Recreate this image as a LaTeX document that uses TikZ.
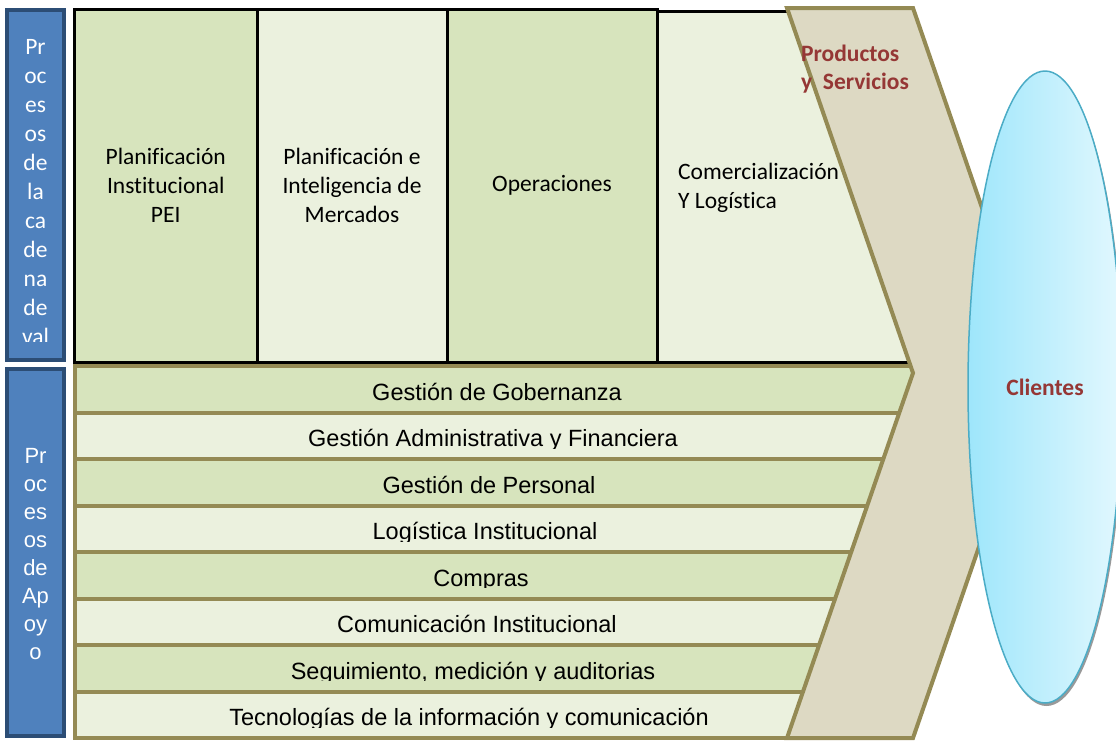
\documentclass[tikz,border=0pt]{standalone}
\usepackage{fontspec}
\setmainfont{Carlito}[Ligatures=NoCommon]
\newfontfamily\arial{Liberation Sans}
\usetikzlibrary{positioning}
\usetikzlibrary{shapes.geometric, shadows}

\definecolor{verdeosc}{HTML}{D7E4BD}
\definecolor{verdecla}{HTML}{EBF1DE}
\definecolor{oliva}{HTML}{948A54}
\definecolor{arena}{HTML}{DDD9C3}
\definecolor{azul}{HTML}{4F81BD}
\definecolor{azulosc}{HTML}{2C4D75}
\definecolor{granate}{HTML}{953735}
\definecolor{celeste}{HTML}{9EE6FB}
\definecolor{celestecla}{HTML}{E2F8FE}
\definecolor{bordecli}{HTML}{4BACC6}

\tikzset{
    cadena/.style={draw=black, line width=3pt, anchor=north west, outer sep=0pt, inner sep=0pt,
        align=center, font=\fontsize{23.5}{29}\selectfont},
    fila/.style={draw=oliva, line width=4pt, anchor=north west, outer sep=0pt, minimum height=46.5},
    etiqueta/.style={anchor=base, inner sep=0pt, font=\arial\fontsize{23.5}{28}\selectfont},
    barra/.style={draw=azulosc, fill=azul, line width=4pt, anchor=north west, outer sep=0pt, minimum width=57},
    letra/.style={anchor=base, inner sep=0pt, text=white, font=\fontsize{23.5}{29}\selectfont},
    flecha/.style={draw=oliva, fill=arena, line width=4pt},
    rojo/.style={text=granate, font=\fontsize{23.5}{28}\selectfont\bfseries}
}

\begin{document}
\begin{tikzpicture}[x=1pt, y=-1pt]
        \useasboundingbox (0,0) rectangle (1116,740);

        % Procesos de apoyo
        \foreach \txt [count=\i from 0] in {Gestión de Gobernanza, Gestión Administrativa y Financiera,
            Gestión de Personal, Logística Institucional, Compras, Comunicación Institucional,
            {Seguimiento, medición y auditorias}, Tecnologías de la información y comunicación} {
            \ifodd\i \def\relleno{verdecla}\else \def\relleno{verdeosc}\fi
            \pgfmathsetmacro\ytop{366+46.5*\i}
            \pgfmathsetmacro\ancho{860-16*\i}
            \node[fila, fill=\relleno, minimum width=\ancho] (g\i) at (75,\ytop) {};
            \begin{scope}
                \clip (77,{\ytop+2}) rectangle (900,{\ytop+35.5});
                \node[etiqueta] (e\i) at ({497-4*\i},{\ytop+34}) {\txt};
            \end{scope}
        }

        % Procesos de la cadena de valor
        \node[cadena, fill=verdeosc, minimum width=182.5, minimum height=352.5] (pei) at (74.5,9.5)
            {Planificación\\Institucional\\PEI};
        \node[cadena, fill=verdecla, minimum width=190, minimum height=352.5, right=0pt of pei] (intel)
            {Planificación e\\Inteligencia de\\Mercados};
        \node[cadena, fill=verdeosc, minimum width=210, minimum height=352.5, right=0pt of intel] (oper)
            {\strut Operaciones};
        \node[cadena, fill=verdecla, minimum width=255, minimum height=351] (comer) at (657,11.5) {};
        \node[align=left, inner sep=0pt, anchor=west, font=\fontsize{23.5}{29}\selectfont] (comertxt)
            at (678,188) {Comercialización\\Y Logística};

        % Flecha de productos
        \draw[flecha] (787,8) -- (913,8) -- (1039,373) -- (913,738) -- (787,738) -- (913,373) -- cycle;
        \node[rojo, align=left] (prod) at (855,69) {Productos\\y\ \ Servicios};

        % Clientes
        \node[ellipse, minimum width=154, minimum height=632, inner sep=0pt, draw=bordecli, line width=1.5pt,
            left color=celeste, right color=celestecla,
            drop shadow={shadow xshift=1.5pt, shadow yshift=-3pt, fill=black!40, opacity=1},
            rojo] (cli) at (1045,387) {Clientes};

        % Barras laterales
        \node[barra, minimum height=350] (bcad) at (7,10) {};
        \node[barra, minimum height=367] (bapo) at (7,369) {};
        \begin{scope}
            \clip (9,12) rectangle (62,341);
            \foreach \s [count=\k from 0] in {Pr,oc,es,os,de,la,ca,de,na,de,val,or}
                \node[letra] (c\k) at (35.5,{54.5+29*\k}) {\s};
        \end{scope}
        \foreach \s [count=\k from 0] in {Pr,oc,es,os,de,Ap,oy,o}
            \node[letra, font=\arial\fontsize{22}{28}\selectfont] (a\k) at (35.5,{463+28*\k}) {\s};

\end{tikzpicture}
\end{document}
